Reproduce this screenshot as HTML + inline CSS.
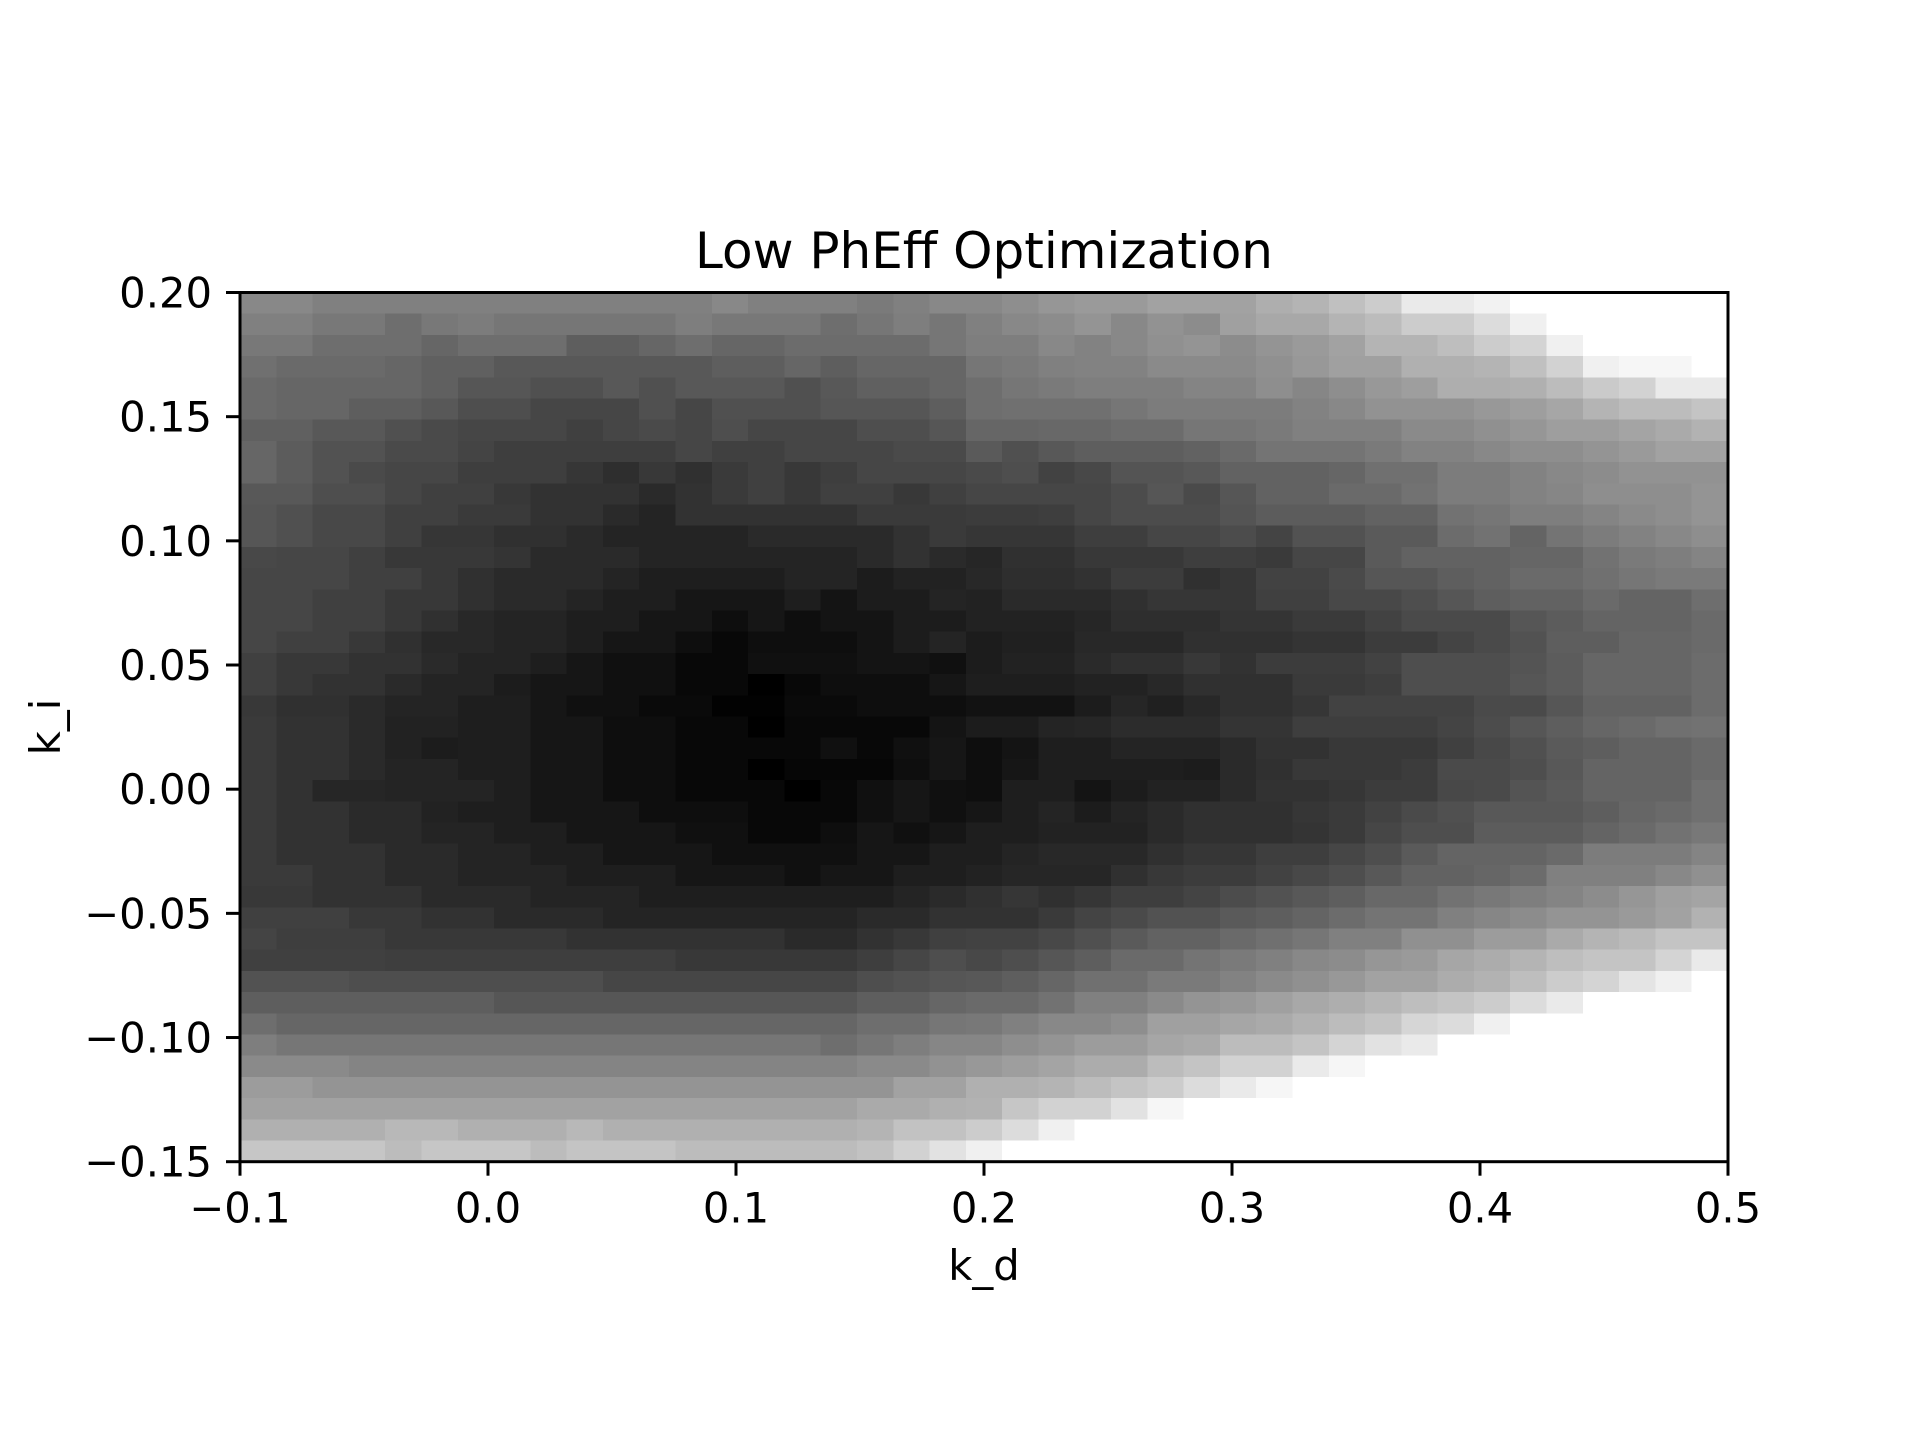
<!DOCTYPE html>
<html><head><meta charset="utf-8"><style>
html,body{margin:0;padding:0;background:#fff;}
svg{display:block;font-family:"DejaVu Sans","Liberation Sans",sans-serif;}
</style></head><body>
<svg id="chart" width="1920" height="1440" viewBox="0 0 1920 1440" xmlns="http://www.w3.org/2000/svg">
<rect x="0" y="0" width="1920" height="1440" fill="#fff"/>
<text x="984" y="268" font-size="50" text-anchor="middle">Low PhEff Optimization</text>
<g id="cells" shape-rendering="crispEdges"></g>
<g id="axes"></g>
<text x="984" y="1280" font-size="41.7" text-anchor="middle">k_d</text>
<text x="0" y="0" font-size="41.7" text-anchor="middle" transform="translate(60,727) rotate(-90)">k_i</text>
</svg>
<script>
const xTicks = [-0.1, 0.0, 0.1, 0.2, 0.3, 0.4, 0.5];
const xTickLabels = ["\u22120.1","0.0","0.1","0.2","0.3","0.4","0.5"];
const yTicks = [0.20, 0.15, 0.10, 0.05, 0.00, -0.05, -0.10, -0.15];
const yTickLabels = ["0.20","0.15","0.10","0.05","0.00","\u22120.05","\u22120.10","\u22120.15"];
const xDomain = [-0.1, 0.5];
const yDomain = [-0.15, 0.2];
// grid values (grey level of each cell, 0 = black, 255 = white); row 0 = top (k_i = 0.20)
const row00=[0x88,0x88,0x80,0x80,0x80,0x80,0x80,0x80,0x80,0x80,0x80,0x80,0x80,0x88,0x80,0x80,0x80,0x7a,0x80,0x88,0x88,0x8e,0x96,0x9a,0x9a,0xa2,0xa2,0xa2,0xae,0xb4,0xc0,0xcc,0xea,0xea,0xf2,0xff,0xff,0xff,0xff,0xff,0xff];
const row01=[0x80,0x80,0x78,0x78,0x6e,0x78,0x7c,0x76,0x76,0x76,0x76,0x76,0x7e,0x78,0x78,0x78,0x6e,0x76,0x7e,0x76,0x80,0x88,0x8c,0x94,0x88,0x92,0x8c,0xa0,0xa8,0xa8,0xb4,0xbc,0xcc,0xcc,0xdc,0xf0,0xff,0xff,0xff,0xff,0xff];
const row02=[0x78,0x78,0x6e,0x6e,0x6e,0x66,0x6e,0x6e,0x6e,0x5e,0x5e,0x66,0x6e,0x66,0x66,0x6c,0x6c,0x6c,0x6c,0x76,0x7e,0x7e,0x88,0x82,0x88,0x90,0x94,0x8c,0x94,0x9a,0xa2,0xb4,0xb4,0xbe,0xcc,0xd4,0xf0,0xff,0xff,0xff,0xff];
const row03=[0x70,0x6a,0x6a,0x6a,0x66,0x60,0x60,0x58,0x58,0x58,0x58,0x58,0x58,0x5e,0x5e,0x66,0x5e,0x66,0x66,0x66,0x76,0x7a,0x80,0x82,0x82,0x8a,0x8a,0x8a,0x90,0x98,0xa0,0xa0,0xb0,0xb0,0xb4,0xc0,0xd2,0xf0,0xf6,0xf6,0xff];
const row04=[0x6a,0x66,0x66,0x66,0x66,0x60,0x56,0x56,0x50,0x50,0x58,0x50,0x58,0x58,0x58,0x50,0x58,0x60,0x60,0x66,0x6e,0x76,0x7a,0x7e,0x7e,0x7e,0x84,0x84,0x8e,0x86,0x8e,0x98,0x9e,0xae,0xae,0xb0,0xbc,0xca,0xd2,0xea,0xea];
const row05=[0x6a,0x66,0x66,0x5e,0x5e,0x58,0x4e,0x4e,0x46,0x46,0x46,0x50,0x46,0x50,0x50,0x50,0x56,0x56,0x56,0x5e,0x6e,0x70,0x70,0x70,0x76,0x7c,0x7c,0x7c,0x7c,0x82,0x88,0x92,0x92,0x92,0x98,0x9e,0xa6,0xb4,0xbc,0xbc,0xc4];
const row06=[0x60,0x60,0x58,0x58,0x50,0x4a,0x46,0x46,0x46,0x40,0x46,0x4a,0x46,0x4e,0x46,0x46,0x46,0x4e,0x4e,0x56,0x66,0x66,0x68,0x68,0x6c,0x6c,0x76,0x76,0x7a,0x80,0x80,0x80,0x8a,0x8a,0x90,0x96,0x9e,0x9e,0xa4,0xaa,0xb2];
const row07=[0x66,0x5c,0x52,0x52,0x4a,0x4a,0x44,0x3e,0x3e,0x3e,0x3e,0x3e,0x46,0x40,0x40,0x46,0x46,0x46,0x4a,0x4a,0x5a,0x50,0x58,0x5e,0x5e,0x5e,0x62,0x6a,0x74,0x74,0x74,0x7a,0x82,0x82,0x88,0x8e,0x8e,0x94,0x9a,0xa2,0xa2];
const row08=[0x66,0x5c,0x52,0x4a,0x46,0x46,0x3e,0x3e,0x3e,0x36,0x2e,0x38,0x30,0x3a,0x40,0x38,0x3e,0x46,0x46,0x46,0x4a,0x4e,0x42,0x48,0x54,0x54,0x58,0x62,0x62,0x62,0x66,0x70,0x70,0x7c,0x7c,0x82,0x88,0x8c,0x92,0x92,0x92];
const row09=[0x58,0x58,0x4e,0x4e,0x46,0x40,0x40,0x38,0x32,0x32,0x32,0x2a,0x32,0x3a,0x40,0x38,0x40,0x40,0x38,0x40,0x46,0x46,0x46,0x46,0x4c,0x56,0x4a,0x56,0x62,0x62,0x6a,0x6a,0x72,0x7c,0x7c,0x82,0x86,0x8e,0x8e,0x8e,0x94];
const row10=[0x56,0x50,0x48,0x48,0x40,0x40,0x3a,0x3a,0x32,0x32,0x2a,0x24,0x32,0x32,0x32,0x32,0x32,0x3a,0x3a,0x3a,0x3c,0x3c,0x3e,0x46,0x4c,0x4c,0x4c,0x54,0x5c,0x5c,0x5c,0x62,0x62,0x72,0x76,0x7e,0x7e,0x84,0x8a,0x8e,0x94];
const row11=[0x56,0x50,0x48,0x48,0x40,0x36,0x36,0x30,0x30,0x2a,0x24,0x24,0x24,0x24,0x2a,0x2a,0x2a,0x2a,0x32,0x3a,0x36,0x36,0x36,0x3e,0x3e,0x46,0x46,0x4c,0x44,0x52,0x52,0x5a,0x5a,0x6c,0x72,0x64,0x74,0x7c,0x82,0x88,0x8e];
const row12=[0x48,0x46,0x46,0x40,0x38,0x38,0x38,0x34,0x2a,0x2a,0x2a,0x24,0x24,0x24,0x24,0x24,0x24,0x2a,0x32,0x2a,0x26,0x30,0x30,0x38,0x38,0x38,0x3e,0x3e,0x3a,0x46,0x46,0x5a,0x62,0x62,0x62,0x66,0x66,0x72,0x7a,0x7e,0x84];
const row13=[0x46,0x46,0x46,0x40,0x40,0x38,0x30,0x2a,0x2a,0x2a,0x24,0x1e,0x1e,0x1e,0x1e,0x24,0x24,0x1c,0x22,0x22,0x28,0x2e,0x2e,0x32,0x3c,0x3c,0x30,0x36,0x42,0x42,0x4a,0x56,0x56,0x5e,0x62,0x6a,0x6a,0x70,0x76,0x7a,0x7a];
const row14=[0x46,0x46,0x40,0x40,0x38,0x38,0x30,0x2a,0x2a,0x24,0x1e,0x1e,0x16,0x16,0x16,0x1e,0x14,0x1c,0x1c,0x24,0x22,0x2a,0x2a,0x2a,0x30,0x36,0x36,0x36,0x40,0x40,0x48,0x48,0x4e,0x56,0x5e,0x62,0x62,0x6a,0x64,0x64,0x6e];
const row15=[0x46,0x46,0x40,0x40,0x38,0x30,0x28,0x24,0x24,0x1e,0x1e,0x16,0x16,0x0e,0x16,0x0e,0x14,0x14,0x1c,0x1c,0x22,0x22,0x22,0x26,0x2e,0x2e,0x2e,0x34,0x34,0x3a,0x3a,0x42,0x4a,0x4a,0x4a,0x56,0x5c,0x64,0x64,0x64,0x6a];
const row16=[0x46,0x40,0x40,0x38,0x30,0x28,0x28,0x24,0x24,0x1e,0x16,0x16,0x0e,0x08,0x0e,0x0e,0x0e,0x14,0x1c,0x24,0x1c,0x20,0x20,0x28,0x28,0x28,0x30,0x30,0x30,0x34,0x34,0x3c,0x3c,0x44,0x4a,0x52,0x5e,0x5e,0x66,0x66,0x6a];
const row17=[0x40,0x38,0x38,0x32,0x32,0x2a,0x24,0x24,0x1e,0x16,0x10,0x10,0x08,0x08,0x10,0x10,0x10,0x14,0x14,0x10,0x1c,0x22,0x22,0x2a,0x30,0x30,0x38,0x32,0x3c,0x3c,0x3c,0x42,0x4e,0x4e,0x4e,0x54,0x5c,0x66,0x66,0x66,0x6c];
const row18=[0x40,0x38,0x32,0x32,0x2a,0x24,0x24,0x1c,0x16,0x16,0x10,0x10,0x08,0x08,0x00,0x08,0x0e,0x0e,0x0e,0x16,0x1e,0x1e,0x1e,0x22,0x22,0x28,0x30,0x30,0x30,0x3a,0x3a,0x3e,0x4e,0x4e,0x4e,0x56,0x5c,0x66,0x66,0x66,0x6c];
const row19=[0x38,0x30,0x30,0x2a,0x24,0x24,0x1e,0x1e,0x16,0x10,0x10,0x0a,0x0a,0x02,0x02,0x0a,0x0a,0x0e,0x0e,0x0e,0x12,0x12,0x12,0x1c,0x26,0x20,0x28,0x30,0x30,0x36,0x42,0x42,0x42,0x42,0x4a,0x4a,0x56,0x62,0x62,0x62,0x6c];
const row20=[0x3a,0x32,0x32,0x2a,0x22,0x22,0x1e,0x1e,0x16,0x16,0x0e,0x0e,0x08,0x08,0x00,0x08,0x08,0x08,0x08,0x14,0x1c,0x1c,0x24,0x26,0x2c,0x2c,0x2c,0x34,0x34,0x3e,0x3e,0x3e,0x3e,0x44,0x4c,0x56,0x5e,0x66,0x6a,0x70,0x72];
const row21=[0x3a,0x32,0x32,0x2a,0x22,0x1c,0x1e,0x1e,0x16,0x16,0x0e,0x0e,0x08,0x08,0x08,0x08,0x10,0x08,0x10,0x16,0x0e,0x14,0x1e,0x1e,0x24,0x24,0x24,0x2a,0x32,0x32,0x38,0x38,0x38,0x40,0x48,0x50,0x5a,0x5e,0x64,0x64,0x6a];
const row22=[0x3a,0x32,0x32,0x2a,0x24,0x24,0x1e,0x1e,0x16,0x16,0x0e,0x0e,0x08,0x08,0x00,0x06,0x06,0x06,0x0e,0x16,0x0e,0x16,0x1e,0x1e,0x1e,0x1e,0x1c,0x2a,0x30,0x38,0x38,0x38,0x3c,0x4a,0x4a,0x4e,0x58,0x64,0x64,0x64,0x6a];
const row23=[0x3a,0x32,0x26,0x26,0x24,0x24,0x24,0x1e,0x16,0x16,0x0e,0x0e,0x08,0x08,0x08,0x00,0x08,0x10,0x16,0x10,0x0e,0x1e,0x1e,0x14,0x1c,0x22,0x22,0x2a,0x32,0x32,0x36,0x3c,0x3c,0x48,0x4a,0x54,0x5a,0x64,0x64,0x64,0x70];
const row24=[0x3a,0x32,0x32,0x2a,0x2a,0x22,0x1e,0x1e,0x16,0x16,0x16,0x0e,0x0e,0x0e,0x08,0x08,0x08,0x10,0x16,0x10,0x16,0x1e,0x24,0x1c,0x24,0x2a,0x30,0x30,0x30,0x36,0x3a,0x42,0x4a,0x50,0x58,0x58,0x58,0x5e,0x66,0x6a,0x70];
const row25=[0x3a,0x32,0x32,0x2a,0x2a,0x24,0x24,0x1e,0x1e,0x16,0x16,0x16,0x10,0x10,0x08,0x08,0x0e,0x16,0x10,0x16,0x1e,0x1e,0x22,0x22,0x22,0x2a,0x30,0x30,0x30,0x34,0x3a,0x46,0x4e,0x4e,0x5c,0x5c,0x5c,0x64,0x6a,0x72,0x78];
const row26=[0x3a,0x32,0x32,0x32,0x2a,0x2a,0x24,0x24,0x1e,0x1e,0x16,0x16,0x16,0x10,0x10,0x10,0x10,0x16,0x16,0x1e,0x1e,0x24,0x28,0x28,0x28,0x30,0x36,0x36,0x3e,0x3e,0x46,0x4e,0x5a,0x64,0x64,0x64,0x6a,0x7c,0x7c,0x7c,0x84];
const row27=[0x3a,0x3a,0x32,0x32,0x2a,0x2a,0x24,0x24,0x24,0x1e,0x1e,0x1e,0x16,0x16,0x16,0x10,0x16,0x16,0x1e,0x1e,0x22,0x26,0x26,0x26,0x30,0x38,0x3c,0x3c,0x42,0x48,0x4e,0x58,0x62,0x62,0x66,0x6c,0x80,0x80,0x80,0x88,0x90];
const row28=[0x38,0x38,0x32,0x32,0x32,0x2a,0x2a,0x2a,0x24,0x24,0x24,0x1e,0x1e,0x1e,0x1e,0x1e,0x1e,0x1e,0x24,0x2a,0x30,0x36,0x30,0x36,0x3e,0x3e,0x44,0x4c,0x52,0x58,0x5e,0x68,0x68,0x72,0x78,0x7e,0x84,0x8c,0x96,0xa0,0xa4];
const row29=[0x40,0x40,0x40,0x38,0x38,0x32,0x32,0x2a,0x2a,0x2a,0x24,0x24,0x24,0x24,0x24,0x24,0x24,0x2a,0x2a,0x32,0x32,0x32,0x3a,0x44,0x4a,0x52,0x52,0x5a,0x5e,0x64,0x6c,0x74,0x74,0x80,0x86,0x8c,0x94,0x94,0x9a,0xa2,0xb2];
const row30=[0x44,0x3e,0x3e,0x3e,0x38,0x38,0x38,0x38,0x38,0x32,0x32,0x32,0x32,0x32,0x32,0x2a,0x2a,0x32,0x38,0x40,0x42,0x42,0x48,0x50,0x5a,0x62,0x62,0x6a,0x70,0x76,0x80,0x80,0x90,0x90,0x9c,0x9c,0xaa,0xb4,0xba,0xc4,0xc4];
const row31=[0x40,0x40,0x40,0x40,0x3e,0x3e,0x3e,0x3e,0x3e,0x3e,0x3e,0x3e,0x38,0x38,0x38,0x38,0x38,0x3e,0x46,0x4e,0x48,0x4e,0x56,0x5e,0x6a,0x6a,0x74,0x7a,0x80,0x88,0x8c,0x96,0x9a,0xa6,0xac,0xb4,0xbe,0xc4,0xc4,0xd4,0xea];
const row32=[0x52,0x52,0x52,0x4e,0x4e,0x4e,0x4e,0x4e,0x4e,0x4e,0x46,0x46,0x46,0x46,0x46,0x46,0x46,0x4e,0x52,0x56,0x58,0x5e,0x66,0x70,0x70,0x7a,0x7a,0x82,0x8a,0x90,0x98,0xa2,0xa2,0xac,0xb2,0xbe,0xcc,0xd4,0xe4,0xf0,0xff];
const row33=[0x5e,0x5e,0x5e,0x5e,0x5e,0x5e,0x5e,0x56,0x56,0x56,0x56,0x56,0x56,0x56,0x56,0x56,0x56,0x5e,0x5e,0x66,0x6a,0x6a,0x72,0x80,0x80,0x8a,0x94,0x98,0xa0,0xa8,0xae,0xb6,0xbe,0xc4,0xcc,0xdc,0xea,0xff,0xff,0xff,0xff];
const row34=[0x6e,0x66,0x66,0x66,0x66,0x66,0x66,0x66,0x66,0x66,0x66,0x66,0x66,0x66,0x66,0x66,0x66,0x6e,0x6e,0x76,0x78,0x80,0x88,0x88,0x8e,0xa0,0xa0,0xa6,0xaa,0xb2,0xbc,0xc4,0xd6,0xdc,0xf0,0xff,0xff,0xff,0xff,0xff,0xff];
const row35=[0x7e,0x76,0x76,0x76,0x76,0x76,0x76,0x76,0x76,0x76,0x76,0x76,0x76,0x76,0x76,0x76,0x6e,0x76,0x7e,0x86,0x86,0x8e,0x94,0x9c,0x9c,0xa6,0xaa,0xbc,0xbc,0xc4,0xd4,0xe2,0xea,0xff,0xff,0xff,0xff,0xff,0xff,0xff,0xff];
const row36=[0x8a,0x8a,0x8a,0x84,0x84,0x84,0x84,0x84,0x84,0x84,0x84,0x84,0x84,0x84,0x84,0x84,0x84,0x8a,0x8a,0x92,0x98,0x9e,0xa4,0xac,0xac,0xbc,0xc4,0xd2,0xd2,0xea,0xf6,0xff,0xff,0xff,0xff,0xff,0xff,0xff,0xff,0xff,0xff];
const row37=[0x9c,0x9c,0x94,0x94,0x94,0x94,0x94,0x94,0x94,0x94,0x94,0x94,0x94,0x94,0x94,0x94,0x94,0x94,0xa2,0xa2,0xb0,0xb0,0xb4,0xbc,0xc4,0xcc,0xdc,0xea,0xf6,0xff,0xff,0xff,0xff,0xff,0xff,0xff,0xff,0xff,0xff,0xff,0xff];
const row38=[0xa2,0xa2,0xa2,0xa2,0xa2,0xa2,0xa2,0xa2,0xa2,0xa2,0xa2,0xa2,0xa2,0xa2,0xa2,0xa2,0xa2,0xaa,0xaa,0xb0,0xb2,0xc6,0xd2,0xd2,0xe2,0xf6,0xff,0xff,0xff,0xff,0xff,0xff,0xff,0xff,0xff,0xff,0xff,0xff,0xff,0xff,0xff];
const row39=[0xb0,0xb0,0xb0,0xb0,0xb8,0xb8,0xb0,0xb0,0xb0,0xb8,0xb0,0xb0,0xb0,0xb0,0xb0,0xb0,0xb0,0xb4,0xc2,0xc2,0xcc,0xdc,0xf0,0xff,0xff,0xff,0xff,0xff,0xff,0xff,0xff,0xff,0xff,0xff,0xff,0xff,0xff,0xff,0xff,0xff,0xff];
const row40=[0xc6,0xc6,0xc6,0xc6,0xbc,0xc6,0xc6,0xc6,0xbc,0xc4,0xc4,0xc4,0xbc,0xbc,0xbc,0xbc,0xbc,0xc2,0xd2,0xe2,0xf0,0xff,0xff,0xff,0xff,0xff,0xff,0xff,0xff,0xff,0xff,0xff,0xff,0xff,0xff,0xff,0xff,0xff,0xff,0xff,0xff];
const gridValues = [row00,row01,row02,row03,row04,row05,row06,row07,row08,row09,row10,row11,row12,row13,row14,row15,row16,row17,row18,row19,row20,row21,row22,row23,row24,row25,row26,row27,row28,row29,row30,row31,row32,row33,row34,row35,row36,row37,row38,row39,row40];

const NS = "http://www.w3.org/2000/svg";
const AX = {left:240, right:1728, top:292.5, bottom:1161.7};
function xScale(v){ return AX.left + (v - xDomain[0]) / (xDomain[1] - xDomain[0]) * (AX.right - AX.left); }
function yScale(v){ return AX.bottom - (v - yDomain[0]) / (yDomain[1] - yDomain[0]) * (AX.bottom - AX.top); }
function mk(tag, attrs){ const e = document.createElementNS(NS, tag); for (const k in attrs) e.setAttribute(k, attrs[k]); return e; }

const cellsG = document.getElementById('cells');
const nRows = gridValues.length;
gridValues.forEach((row, r) => {
  const nCols = row.length;
  const dx = (xDomain[1] - xDomain[0]) / nCols;
  const dy = (yDomain[1] - yDomain[0]) / nRows;
  row.forEach((v, c) => {
    const x0 = xScale(xDomain[0] + c * dx), x1 = xScale(xDomain[0] + (c + 1) * dx);
    const yTop = yScale(yDomain[1] - r * dy), yBot = yScale(yDomain[1] - (r + 1) * dy);
    const g = Math.max(0, Math.min(255, Math.round(v)));
    const rect = mk('rect', {x: x0, y: yTop, width: (x1 - x0) + 0.6, height: (yBot - yTop) + 0.6, fill: `rgb(${g},${g},${g})`});
    
    
    cellsG.appendChild(rect);
  });
});

const axesG = document.getElementById('axes');
const frame = mk('rect', {x: AX.left, y: AX.top, width: AX.right - AX.left, height: AX.bottom - AX.top, fill: 'none', stroke: '#000', 'stroke-width': 3});


axesG.appendChild(frame);

xTicks.forEach((t, i) => {
  const x = xScale(t);
  const tk = mk('line', {x1: x, x2: x, y1: AX.bottom, y2: AX.bottom + 14, stroke: '#000', 'stroke-width': 3});
  
  
  axesG.appendChild(tk);
  const lb = mk('text', {x: x, y: AX.bottom + 61, 'font-size': 41.7, 'text-anchor': 'middle'});
  lb.textContent = xTickLabels[i];
  
  
  axesG.appendChild(lb);
});
yTicks.forEach((t, i) => {
  const y = yScale(t);
  const tk = mk('line', {x1: AX.left - 14, x2: AX.left, y1: y, y2: y, stroke: '#000', 'stroke-width': 3});
  
  
  axesG.appendChild(tk);
  const lb = mk('text', {x: AX.left - 28, y: y + 15, 'font-size': 41.7, 'text-anchor': 'end'});
  lb.textContent = yTickLabels[i];
  
  
  axesG.appendChild(lb);
});
</script>
</body></html>
